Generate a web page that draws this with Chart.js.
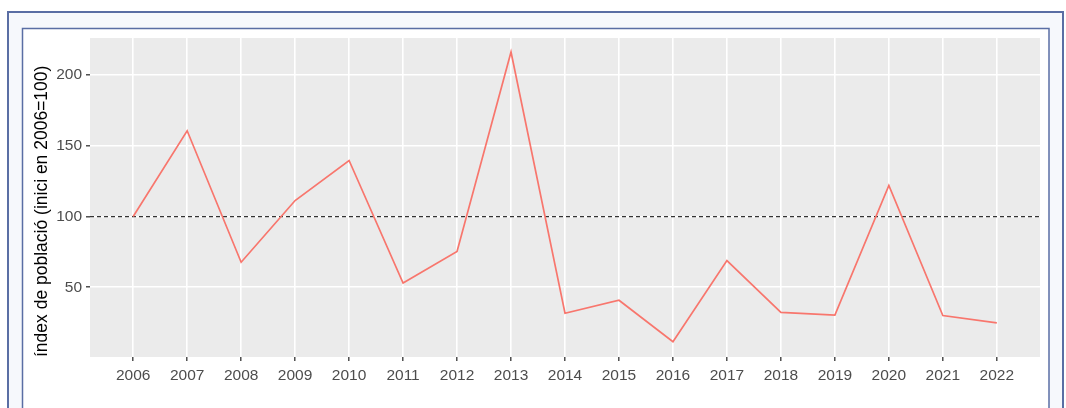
<!DOCTYPE html>
<html>
<head>
<meta charset="utf-8">
<script src="https://cdn.jsdelivr.net/npm/chart.js@4.4.1/dist/chart.umd.min.js"></script>
<style>
  html, body { margin: 0; padding: 0; background: #ffffff; }
  #wrap { width: 1066px; height: 408px; position: relative; }
</style>
</head>
<body>
<div id="wrap"><canvas id="c" width="1066" height="408"></canvas></div>
<script>
// ---- data ----
const YEARS = [2006, 2007, 2008, 2009, 2010, 2011, 2012, 2013, 2014, 2015, 2016, 2017, 2018, 2019, 2020, 2021, 2022];
const INDEX_VALUES = [100, 160.6, 67.7, 111.3, 139.6, 53.0, 75.3, 216.3, 31.6, 40.8, 11.5, 68.9, 32.2, 30.3, 122.0, 30.0, 24.8];
const Y_TICKS = [50, 100, 150, 200];
const REFERENCE_VALUE = 100;
const Y_TITLE = 'índex de població (inici en 2006=100)';

const FONT = '"Liberation Sans", Arial, Helvetica, sans-serif';

const points = YEARS.map((y, i) => ({ x: y, y: INDEX_VALUES[i] }));

const framePlugin = {
  id: 'frame',
  beforeDraw(chart) {
    const ctx = chart.ctx;
    const { left, top, right, bottom } = chart.chartArea;
    ctx.save();
    ctx.fillStyle = '#ffffff';
    ctx.fillRect(0, 0, 1066, 408);
    // outer box
    ctx.fillStyle = '#f6f8fc';
    ctx.fillRect(7, 11, 1057, 420);
    ctx.strokeStyle = '#5a6ea4';
    ctx.lineWidth = 2;
    ctx.strokeRect(8, 12, 1055, 420);
    // inner panel
    ctx.fillStyle = '#ffffff';
    ctx.fillRect(22, 28, 1027, 420);
    ctx.lineWidth = 1.5;
    ctx.strokeStyle = '#5a6ea4';
    ctx.strokeRect(22.5, 28.5, 1026.5, 420);
    // plot panel
    ctx.fillStyle = '#ebebeb';
    ctx.fillRect(left, top, right - left, bottom - top);
    ctx.restore();
  },
  beforeDatasetsDraw(chart) {
    const ctx = chart.ctx;
    const { left, right } = chart.chartArea;
    const yp = chart.scales.y.getPixelForValue(REFERENCE_VALUE);
    ctx.save();
    ctx.strokeStyle = '#333333';
    ctx.lineWidth = 1.3;
    ctx.setLineDash([4, 3]);
    ctx.beginPath();
    ctx.moveTo(left, yp);
    ctx.lineTo(right, yp);
    ctx.stroke();
    ctx.restore();
  }
};

new Chart(document.getElementById('c'), {
  type: 'line',
  data: {
    datasets: [{
      data: points,
      borderColor: '#F8766D',
      borderWidth: 1.7,
      pointRadius: 0,
      fill: false,
      tension: 0
    }]
  },
  options: {
    responsive: false,
    animation: false,
    events: [],
    layout: { padding: { left: 0, right: 26, top: 38, bottom: 0 } },
    plugins: { legend: { display: false }, tooltip: { enabled: false } },
    scales: {
      x: {
        type: 'linear',
        min: 2005.2,
        max: 2022.8,
        afterBuildTicks: s => { s.ticks = YEARS.map(v => ({ value: v })); },
        afterFit: s => { s.height = 51; },
        ticks: {
          autoSkip: false,
          maxRotation: 0,
          padding: 5,
          color: '#4d4d4d',
          font: { family: FONT, size: 15.5 },
          callback: v => String(v)
        },
        grid: { color: '#ffffff', lineWidth: 1.6, tickColor: '#333333', tickLength: 4, tickWidth: 1.3 },
        border: { display: false }
      },
      y: {
        type: 'linear',
        min: 0.7,
        max: 226.2,
        afterBuildTicks: s => { s.ticks = Y_TICKS.map(v => ({ value: v })); },
        afterFit: s => { s.width = 90; },
        ticks: {
          padding: 4,
          color: '#4d4d4d',
          font: { family: FONT, size: 15.5 },
          callback: v => String(v)
        },
        grid: { color: '#ffffff', lineWidth: 1.6, tickColor: '#333333', tickLength: 4, tickWidth: 1.3 },
        border: { display: false },
        title: {
          display: true,
          text: Y_TITLE,
          align: 'start',
          color: '#000000',
          font: { family: FONT, size: 17.5 },
          padding: { top: 32, bottom: 0 }
        }
      }
    }
  },
  plugins: [framePlugin]
});
</script>
</body>
</html>
